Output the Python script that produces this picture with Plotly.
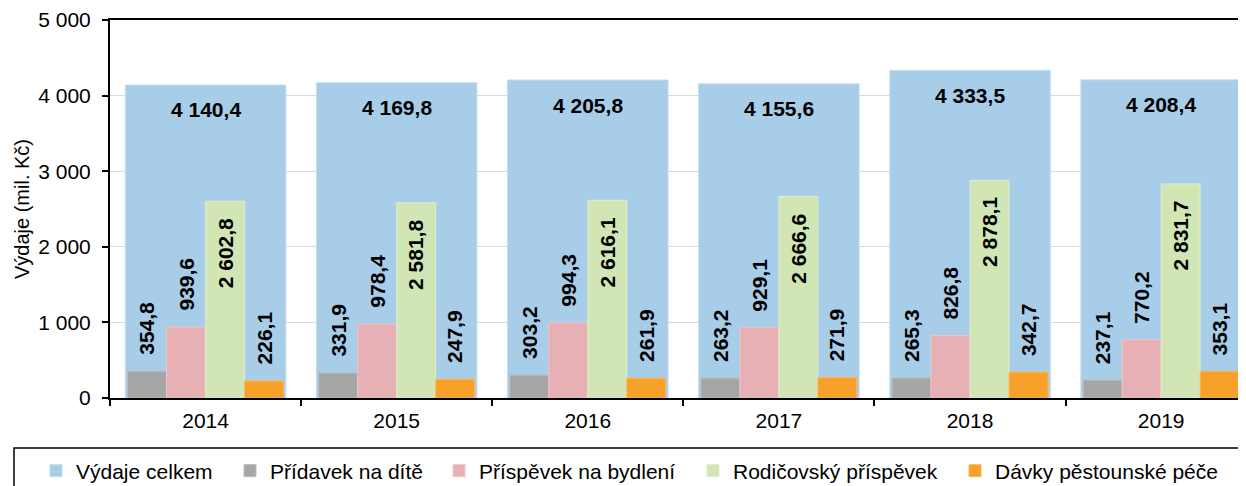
import plotly.graph_objects as go

years = ["2014", "2015", "2016", "2017", "2018", "2019"]
celkem = [4140.4, 4169.8, 4205.8, 4155.6, 4333.5, 4208.4]
pridavek = [354.8, 331.9, 303.2, 263.2, 265.3, 237.1]
bydleni = [939.6, 978.4, 994.3, 929.1, 826.8, 770.2]
rodicovsky = [2602.8, 2581.8, 2616.1, 2666.6, 2878.1, 2831.7]
pestoun = [226.1, 247.9, 261.9, 271.9, 342.7, 353.1]

names = ["Výdaje celkem", "Přídavek na dítě", "Příspěvek na bydlení",
         "Rodičovský příspěvek", "Dávky pěstounské péče"]
colors = ["#A7CDE8", "#A6A6A6", "#E6B0B4", "#D2E6B5", "#F7A12A"]
edge = ["#C4DEF1", "#BDBDBD", "#EEC5C8", "#E0EECD", "#F9B85E"]

FONT = "Liberation Sans, Arial, sans-serif"


def cz(v):
    return f"{v:,.1f}".replace(",", " ").replace(".", ",")


fig = go.Figure()

W = 0.204
small = [pridavek, bydleni, rodicovsky, pestoun]
offsets = [-2 * W, -W, 0, W]
legend_keys = ["legend2", "legend3", "legend4", "legend5", "legend6"]

fig.add_trace(go.Bar(x=years, y=celkem, name=names[0], offset=-0.42, width=0.84,
                     marker=dict(color=colors[0], line=dict(color=edge[0], width=1)),
                     legend=legend_keys[0], hoverinfo="y"))
for k, vals in enumerate(small):
    fig.add_trace(go.Bar(x=years, y=vals, name=names[k + 1], offset=offsets[k], width=W,
                         marker=dict(color=colors[k + 1], line=dict(color=edge[k + 1], width=1)),
                         legend=legend_keys[k + 1], hoverinfo="y"))

annotations = []
for i, v in enumerate(celkem):
    annotations.append(dict(x=i, y=v, xref="x", yref="y", text=f"<b>{cz(v)}</b>",
                            showarrow=False, yanchor="middle", yshift=-25,
                            font=dict(family=FONT, size=21, color="black")))
for k, vals in enumerate(small):
    for i, v in enumerate(vals):
        inside = (k == 2)
        annotations.append(dict(x=i + offsets[k] + W / 2, y=v, xref="x", yref="y",
                                text=f"<b>{cz(v)}</b>", textangle=-90, showarrow=False,
                                yanchor="top" if inside else "bottom",
                                yshift=-15 if inside else 14,
                                font=dict(family=FONT, size=21, color="black")))

fig.update_layout(
    width=1246, height=486,
    margin=dict(l=102, r=8, t=12, b=96, autoexpand=False),
    paper_bgcolor="white", plot_bgcolor="white",
    barmode="overlay",
    separators=", ",
    font=dict(family=FONT, size=21, color="black"),
    annotations=annotations,
    xaxis=dict(type="category", range=[-0.5, 5.444], showline=True, linecolor="black",
               linewidth=2, mirror=True, ticks="outside", tickson="boundaries",
               ticklen=6, tickwidth=1.5, tickcolor="black", showgrid=False,
               automargin=False,
               tickfont=dict(family=FONT, size=21), ticklabelstandoff=3),
    yaxis=dict(range=[0, 5000], tickvals=[0, 1000, 2000, 3000, 4000, 5000],
               tickformat=",", showline=True, linecolor="black", linewidth=2,
               ticks="outside", ticklen=6, tickwidth=1.5, tickcolor="black",
               showgrid=True, gridcolor="#D9D9D9", gridwidth=1, zeroline=False,
               automargin=False,
               tickfont=dict(family=FONT, size=21), ticklabelstandoff=7,
               title=dict(text="Výdaje (mil. Kč)", font=dict(family=FONT, size=20),
                          standoff=3)),
    shapes=[dict(type="rect", xref="paper", yref="paper",
                 x0=(14 - 110) / 1136, x1=(1241.5 - 110) / 1136,
                 y0=(398 - 448) / 378, y1=(398 - 500) / 378,
                 line=dict(color="black", width=1.5), fillcolor="rgba(0,0,0,0)", layer="above")],
    showlegend=True,
)

legend_x = [28, 222, 431, 685, 947]
for key, lx in zip(legend_keys, legend_x):
    fig.update_layout({key: dict(xref="container", yref="container", x=lx / 1246,
                                 y=1 - 463 / 486, xanchor="left", yanchor="middle",
                                 orientation="h", bgcolor="rgba(0,0,0,0)", borderwidth=0,
                                 font=dict(family=FONT, size=21, color="black"))})

fig.write_html("out.html")
